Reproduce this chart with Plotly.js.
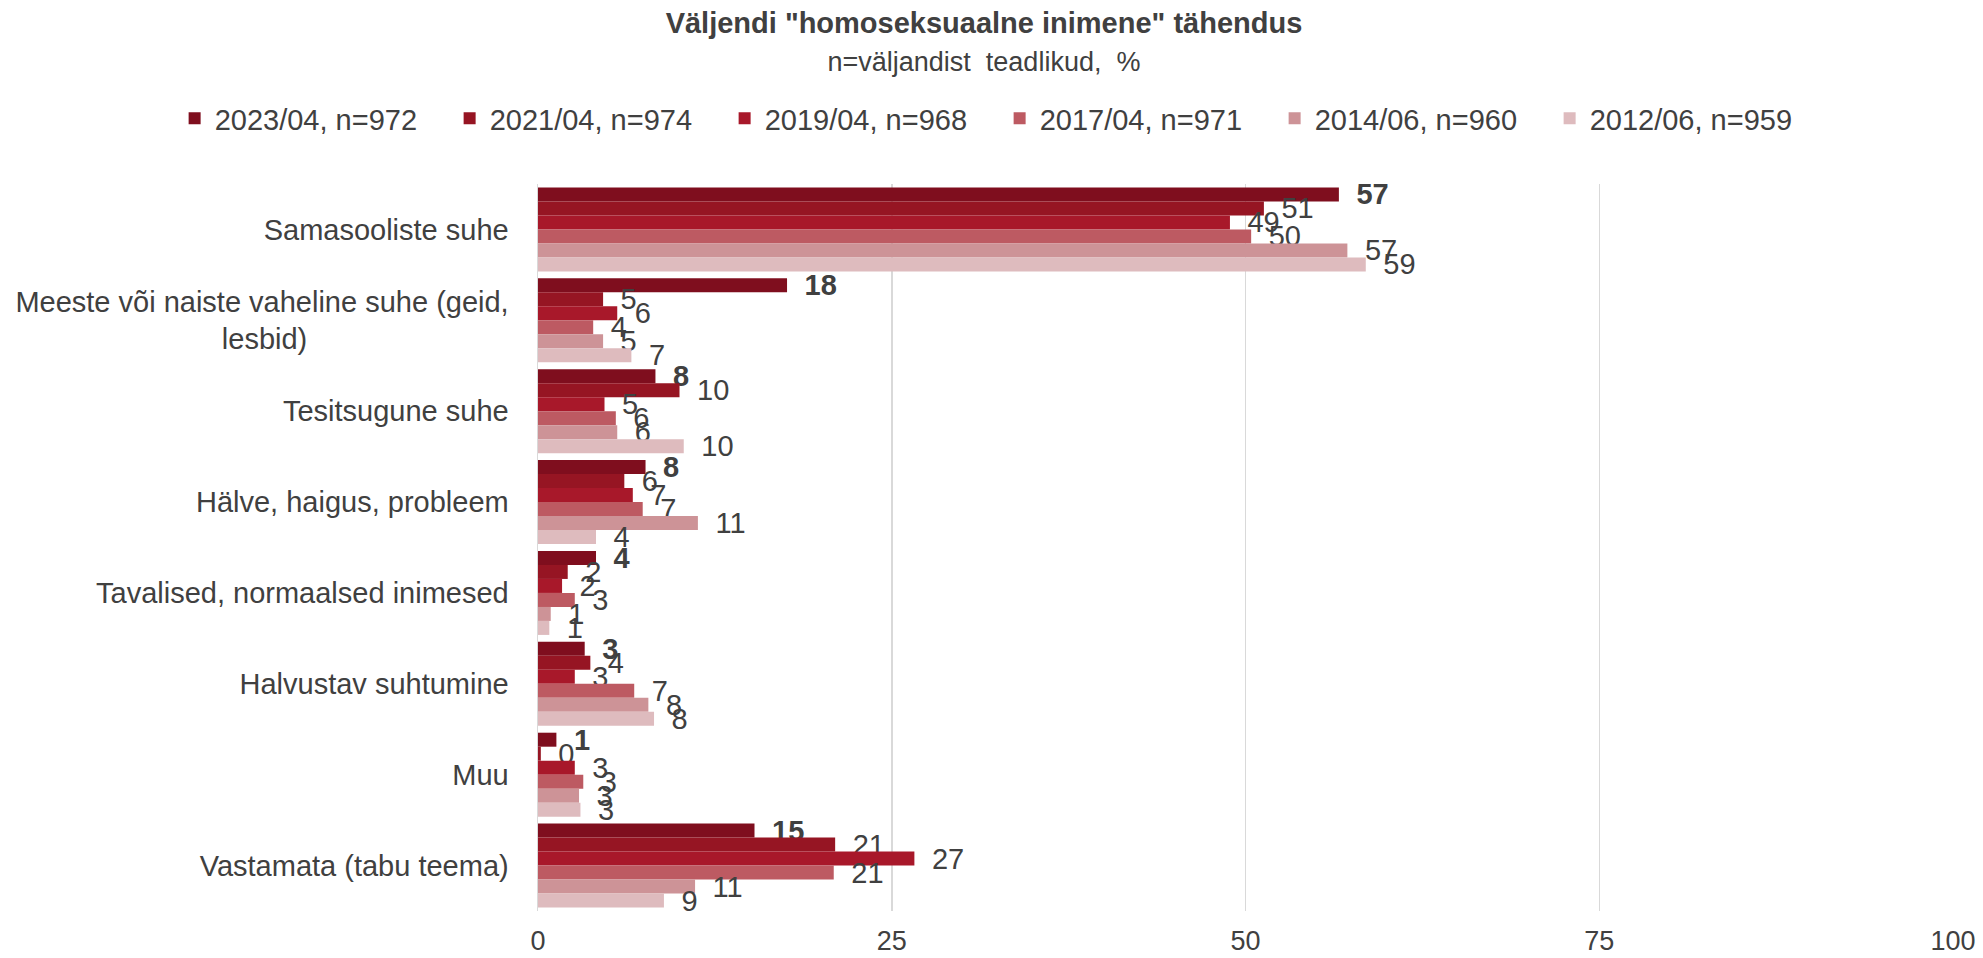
<!DOCTYPE html>
<html>
<head>
<meta charset="utf-8">
<script src="https://cdn.plot.ly/plotly-3.0.1.min.js"></script>
<style>
  html, body { margin: 0; padding: 0; background: #ffffff; }
  #chart { width: 1983px; height: 958px; }
</style>
</head>
<body>
<div id="chart"></div>
<script>
// ---- Data ----
const categories = [
  'Samasooliste suhe',
  'Meeste või naiste vaheline suhe (geid, lesbid)',
  'Tesitsugune suhe',
  'Hälve, haigus, probleem',
  'Tavalised, normaalsed inimesed',
  'Halvustav suhtumine',
  'Muu',
  'Vastamata (tabu teema)'
];
const categoryLabels = [
  'Samasooliste suhe',
  'Meeste või naiste vaheline suhe (geid,<br>lesbid)' + '\u00a0'.repeat(25),
  'Tesitsugune suhe',
  'Hälve, haigus, probleem',
  'Tavalised, normaalsed inimesed',
  'Halvustav suhtumine',
  'Muu',
  'Vastamata (tabu teema)'
];
const seriesNames = ['2023/04, n=972', '2021/04, n=974', '2019/04, n=968', '2017/04, n=971', '2014/06, n=960', '2012/06, n=959'];
const v2023 = [56.6, 17.6, 8.3, 7.6, 4.1, 3.3, 1.3, 15.3];
const v2021 = [51.3, 4.6, 10.0, 6.1, 2.1, 3.7, 0.2, 21.0];
const v2019 = [48.9, 5.6, 4.7, 6.7, 1.7, 2.6, 2.6, 26.6];
const v2017 = [50.4, 3.9, 5.5, 7.4, 2.6, 6.8, 3.2, 20.9];
const v2014 = [57.2, 4.6, 5.6, 11.3, 0.9, 7.8, 2.9, 11.1];
const v2012 = [58.5, 6.6, 10.3, 4.1, 0.8, 8.2, 3.0, 8.9];
const seriesValues = [v2023, v2021, v2019, v2017, v2014, v2012];
const colors = ['#7F0E1E', '#961523', '#A8182A', '#BD5A62', '#CD9397', '#DEBBBE'];
const xTicks = [0, 25, 50, 75, 100];

const FONT = 'Liberation Sans, Arial, sans-serif';
const TXT = '#404040';

const traces = seriesNames.map((name, i) => ({
  type: 'bar',
  orientation: 'h',
  name: name,
  y: categories,
  x: seriesValues[i],
  marker: { color: colors[i], line: { width: 0 } },
  texttemplate: '\u2002%{x:.0f}',
  textposition: 'outside',
  constraintext: 'none',
  cliponaxis: false,
  textfont: { family: FONT, size: 29, color: TXT, weight: i === 0 ? 'bold' : 'normal' },
  hoverinfo: 'none'
}));

// plot area in pixels (used to place the legend in paper coordinates)
const M = { l: 537.5, r: 30, t: 184, b: 47 };
const W = 1983, H = 958;
const plotW = W - M.l - M.r, plotH = H - M.t - M.b;

const layout = {
  width: W,
  height: H,
  paper_bgcolor: '#ffffff',
  plot_bgcolor: '#ffffff',
  font: { family: FONT, color: TXT },
  margin: { l: M.l, r: M.r, t: M.t, b: M.b, pad: 0, autoexpand: false },
  title: {
    text: '<b>Väljendi "homoseksuaalne inimene" tähendus</b><br><span style="font-size:27px">n=väljandist\u00a0 teadlikud,\u00a0 %</span>',
    font: { family: FONT, size: 29, color: TXT },
    x: 0.4962, xanchor: 'center', xref: 'container',
    y: 1 - 33 / 958, yanchor: 'top', yref: 'container',
    automargin: false
  },
  barmode: 'group',
  bargap: 0.076,
  bargroupgap: 0,
  showlegend: true,
  legend: {
    orientation: 'h',
    xref: 'paper', yref: 'paper',
    x: (174 - M.l) / plotW, xanchor: 'left',
    y: (H - M.b - 93) / plotH, yanchor: 'top',
    font: { family: FONT, size: 29, color: TXT },
    entrywidth: 230, entrywidthmode: 'pixels',
    traceorder: 'normal',
    bgcolor: 'rgba(0,0,0,0)'
  },
  xaxis: {
    range: [0, 100],
    tickvals: xTicks,
    ticktext: xTicks.map(String),
    showgrid: true,
    gridcolor: '#D9D9D9',
    gridwidth: 1.5,
    zeroline: false,
    showline: false,
    ticks: '',
    tickfont: { family: FONT, size: 27, color: TXT },
    ticklabelstandoff: 11,
    fixedrange: true
  },
  yaxis: {
    type: 'category',
    autorange: 'reversed',
    tickvals: categories,
    ticktext: categoryLabels,
    showgrid: false,
    zeroline: false,
    showline: true,
    linecolor: '#D9D9D9',
    linewidth: 1.5,
    ticks: '',
    tickfont: { family: FONT, size: 29, color: TXT },
    ticklabelstandoff: 22,
    fixedrange: true
  }
};

Plotly.newPlot('chart', traces, layout, { displayModeBar: false, staticPlot: true });
</script>
</body>
</html>
